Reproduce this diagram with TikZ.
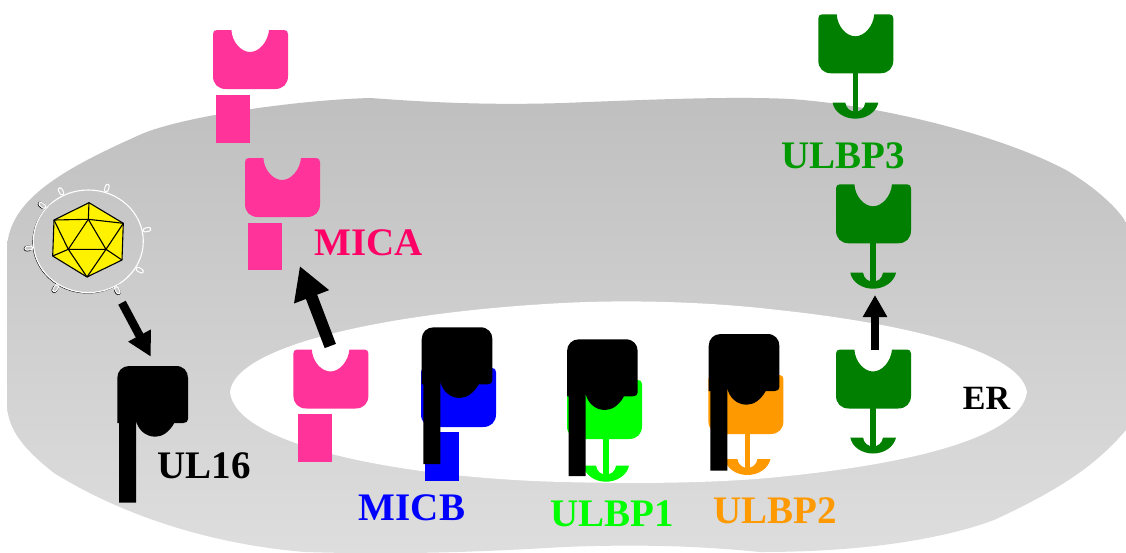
\documentclass[tikz,border=0pt]{standalone}
\usepackage{fontspec}
\setmainfont{Liberation Serif}
\usetikzlibrary{arrows.meta}
\definecolor{micapink}{HTML}{FF3399}
\definecolor{micatext}{HTML}{FF0066}
\definecolor{ulbpgreen}{HTML}{007F00}
\definecolor{ulbptext}{HTML}{009900}
\definecolor{ulbporange}{HTML}{FF9900}
\definecolor{limegreen}{HTML}{00FF00}
\tikzset{
	name label/.style={inner sep=0pt, anchor=base, font=\bfseries\fontsize{39}{40}\selectfont},
	fat arrow/.style={draw=black, line width=#1},
	envelope/.style={draw=white, line width=1.1pt},
	pics/cup/.style={code={
		\fill[#1] (4,0) -- (18.4,0) .. controls (19,12) and (28,22) .. (37,22)
			.. controls (46,22) and (55,12) .. (56,0) -- (71,0)
			.. controls (73.5,0) and (75,1.5) .. (75,4) -- (75,46)
			.. controls (75,54) and (70,59) .. (62,59) -- (13,59)
			.. controls (5,59) and (0,54) .. (0,46) -- (0,4)
			.. controls (0,1.5) and (1.5,0) .. (4,0) -- cycle;
	}},
	pics/anchorfoot/.style={code={
		\fill[#1] (-2.7,-32) rectangle (2.7,10);
		\fill[#1] (-22.7,0) -- (-10,0) .. controls (-9,6) and (-5,8.8) .. (0,8.8)
			.. controls (5,8.8) and (9,6) .. (10,0) -- (23,0)
			.. controls (21,9.5) and (11,16) .. (0,16)
			.. controls (-11,16) and (-21,9.5) .. (-22.7,0) -- cycle;
	}},
	pics/blocker/.style={code={
		\fill[black] (12,0) -- (58.7,0) .. controls (66,0) and (70.7,5) .. (70.7,12) -- (70.7,53)
			.. controls (70.7,55.5) and (69,57) .. (66,57) -- (57,57)
			.. controls (52,66) and (45,70.7) .. (38,70.7)
			.. controls (28,70.7) and (20,63) .. (18.7,54) -- (18.7,136.7) -- (1.7,136.7)
			-- (1.7,57) -- (0,57) -- (0,12) .. controls (0,5) and (5,0) .. (12,0) -- cycle;
	}},
}
\begin{document}
\begin{tikzpicture}[x=1pt, y=-1pt]
\useasboundingbox (0,0) rectangle (1126,552);
\fill[white] (0,0) rectangle (1126,552);
\clip (0,0) rectangle (1126,552);
% cell and ER
\path[top color=black!25, bottom color=black!13]
	(7,403) -- (7,247) .. controls (10,200) and (60,170) .. (144,133)
	.. controls (190,115) and (300,100) .. (370,98)
	.. controls (400,100) and (470,106) .. (563,103)
	.. controls (640,100) and (730,96) .. (790,99)
	.. controls (880,105) and (1000,135) .. (1066,170)
	.. controls (1095,187) and (1120,210) .. (1126,223) -- (1130,223) -- (1130,430) -- (1126,430)
	.. controls (1100,460) and (1070,485) .. (994,520)
	.. controls (940,540) and (860,552) .. (760,552)
	.. controls (700,546) and (640,544) .. (563,547)
	.. controls (480,552) and (400,555) .. (305,552)
	.. controls (220,545) and (130,520) .. (54,473)
	.. controls (25,450) and (7,430) .. (7,403) -- cycle;
\fill[white] (230,392) .. controls (235,345) and (390,312) .. (563,303)
	.. controls (640,299) and (720,303) .. (778,310)
	.. controls (900,323) and (1020,350) .. (1027,392)
	.. controls (1020,440) and (900,465) .. (778,477)
	.. controls (720,483) and (640,484) .. (563,482)
	.. controls (400,478) and (235,445) .. (230,392) -- cycle;
% virus
\coordinate (virus) at (88.3,241.3);
\begin{scope}[shift={(virus)}]
\draw[black, line width=.6pt, xshift=-.6pt, yshift=-.6pt]
	(-130:55 and 51.3) arc[start angle=-130, end angle=-305, x radius=55, y radius=51.3];
\foreach \a in {140,187,237,299}
	\draw[black, line width=5.6pt, line cap=round, xshift=-.3pt, yshift=-.3pt] (-\a:59 and 55) -- (-\a:62 and 58);
\foreach \a in {12,72,117,140,187,237,299,329}
{
	\draw[white, line width=4.8pt, line cap=round] (-\a:58 and 54) -- (-\a:62 and 58);
	\draw[black!22, line width=2.6pt, line cap=round] (-\a:58 and 54) -- (-\a:62 and 58);
}
\draw[envelope] (0,0) ellipse (55 and 51.3);
\end{scope}
\draw[black, fill=yellow, line width=1.1pt, line join=round]
	(89,202.7) coordinate (t) -- (123.3,223.3) coordinate (ur) -- (122,260) coordinate (lr)
	-- (87,277) coordinate (b) -- (52.7,256) coordinate (ll) -- (54,220) coordinate (ul) -- cycle;
\draw[black, line width=1.1pt, line join=round]
	(88.3,219.3) coordinate (i1) -- (68.3,249.3) coordinate (i2) -- (106,249.3) coordinate (i3) -- cycle
	(t) -- (i1) (ul) -- (i1) (ur) -- (i1)
	(ul) -- (i2) (ll) -- (i2) (b) -- (i2)
	(b) -- (i3) (lr) -- (i3) (ur) -- (i3);
% MICA
\pic (micaa) at (213,30) {cup=micapink};
\fill[micapink] (216,95) rectangle (250,143);
\pic (micab) at (245,158) {cup=micapink};
\fill[micapink] (248,223) rectangle (282,270);
\pic (micac) at (293.4,349.5) {cup=micapink};
\fill[micapink] (298,413.5) rectangle (332,461.5);
% MICB
\pic (micb) at (421,368) {cup=blue};
\fill[blue] (425,432) rectangle (459,481);
\pic (blockb) at (421.7,327.3) {blocker};
% ULBP1, ULBP2
\pic (foota) at (606,465.7) {anchorfoot=limegreen};
\pic (ulbpa) at (567,380) {cup=limegreen};
\pic (blocka) at (567,339.3) {blocker};
\pic (footo) at (747.4,459) {anchorfoot=ulbporange};
\pic (ulbpo) at (708.4,375) {cup=ulbporange};
\pic (blockc) at (708.7,334) {blocker};
% ULBP3
\pic (foott) at (855.3,102.7) {anchorfoot=ulbpgreen};
\pic (ulbpt) at (818.3,14.3) {cup=ulbpgreen};
\pic (footm) at (873,272.7) {anchorfoot=ulbpgreen};
\pic (ulbpm) at (836,184.3) {cup=ulbpgreen};
\pic (foote) at (873,437.5) {anchorfoot=ulbpgreen};
\pic (ulbpe) at (836,349.5) {cup=ulbpgreen};
% UL16
\pic (blockd) at (117.3,366) {blocker};
% arrows
\coordinate (va) at (122,302.7);
\coordinate (vb) at (150.8,356.7);
\coordinate (ma) at (330.3,346);
\coordinate (mb) at (299.8,266);
\coordinate (ua) at (875,350);
\coordinate (ub) at (875,295);
\draw[fat arrow=8.4pt, -{Triangle[length=24pt,width=24pt]}] (va) -- (vb);
\draw[fat arrow=12pt, -{Triangle[length=33pt,width=35pt]}] (ma) -- (mb);
\draw[fat arrow=8.3pt, -{Triangle[length=22pt,width=23pt]}] (ua) -- (ub);
% labels
\node[name label, text=micatext] (micalabel) at (368.5,255) {MICA};
\node[name label, text=blue] (micblabel) at (412,520) {MICB};
\node[name label, text=limegreen] (ulbpalabel) at (612,526) {ULBP1};
\node[name label, text=ulbporange] (ulbpblabel) at (775.5,523) {ULBP2};
\node[name label, text=ulbptext] (ulbpclabel) at (843,168) {ULBP3};
\node[name label, text=black] (ullabel) at (204,478) {UL16};
\node[name label, text=black, font=\bfseries\fontsize{34}{36}\selectfont] (erlabel) at (986.5,409) {ER};
\end{tikzpicture}
\end{document}
